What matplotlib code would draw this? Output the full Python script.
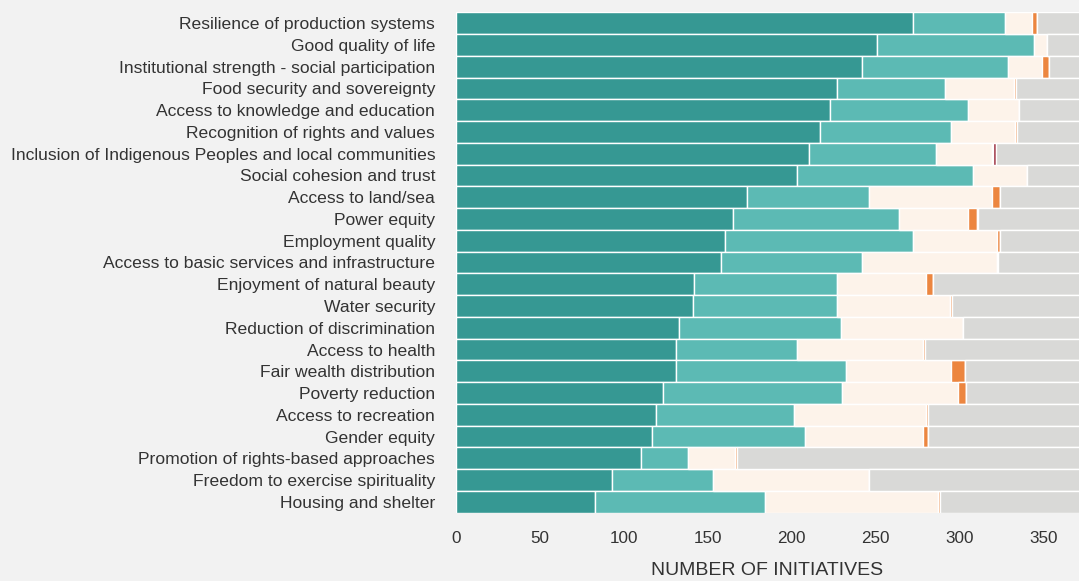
import matplotlib
matplotlib.use("Agg")
import matplotlib.pyplot as plt
import numpy as np

categories = [
    "Resilience of production systems",
    "Good quality of life",
    "Institutional strength - social participation",
    "Food security and sovereignty",
    "Access to knowledge and education",
    "Recognition of rights and values",
    "Inclusion of Indigenous Peoples and local communities",
    "Social cohesion and trust",
    "Access to land/sea",
    "Power equity",
    "Employment quality",
    "Access to basic services and infrastructure",
    "Enjoyment of natural beauty",
    "Water security",
    "Reduction of discrimination",
    "Access to health",
    "Fair wealth distribution",
    "Poverty reduction",
    "Access to recreation",
    "Gender equity",
    "Promotion of rights-based approaches",
    "Freedom to exercise spirituality",
    "Housing and shelter",
]

dark_teal = [272, 251, 242, 227, 223, 217, 210, 203, 173, 165, 160, 158, 142, 141, 133, 131, 131, 123, 119, 117, 110, 93, 83]
light_teal = [55, 93, 87, 64, 82, 78, 76, 105, 73, 99, 112, 84, 85, 86, 96, 72, 101, 107, 82, 91, 28, 60, 101]
cream = [16, 8, 20, 41, 30, 38, 33, 32, 73, 41, 50, 80, 53, 67, 73, 75, 63, 69, 79, 70, 28, 93, 103]
orange = [3, 0, 4, 1.5, 0, 1, 0.8, 0, 5, 5, 2, 1, 4, 1.5, 0, 1, 8, 5, 1, 3, 1.5, 0, 1.5]
dark_red = [0, 0, 0, 0, 0, 0, 2, 0, 0, 1, 0, 0, 0, 0, 0, 0, 0, 0, 0, 0, 0, 0, 0]
total = 380
grey = [total - (a + b + c + d + e) for a, b, c, d, e in zip(dark_teal, light_teal, cream, orange, dark_red)]

series = [dark_teal, light_teal, cream, orange, dark_red, grey]
colors = ["#369893", "#5cbab4", "#fdf3ea", "#ec8640", "#9b2d3f", "#d9d9d7"]

plt.rcParams['font.family'] = ['Liberation Sans', 'DejaVu Sans']
bg = "#f2f2f2"
fig = plt.figure(figsize=(10.79, 5.81), dpi=100, facecolor=bg)
ax = fig.add_axes([456 / 1079, 1 - 512.7 / 581, 1 - 456 / 1079, (512.7 - 12.3) / 581])
ax.set_facecolor(bg)

y = np.arange(len(categories))
left = np.zeros(len(categories))
for vals, col in zip(series, colors):
    v = np.array(vals, dtype=float)
    ax.barh(y, v, left=left, height=1.0, color=col, edgecolor="white", linewidth=1.0)
    left += v

ax.set_ylim(len(categories) - 0.5, -0.5)
ax.set_xlim(0, 371)
ax.set_yticks(y)
ax.set_yticklabels(categories, fontsize=12.6, color="#333333")
ax.set_xticks([0, 50, 100, 150, 200, 250, 300, 350])
ax.tick_params(axis="y", length=0, pad=15)
ax.tick_params(axis="x", length=0, pad=13, labelsize=12.3, labelcolor="#333333")
ax.set_xlabel("NUMBER OF INITIATIVES", fontsize=14, color="#333333", labelpad=12)
for s in ax.spines.values():
    s.set_visible(False)

fig.savefig("out.png", dpi=100, facecolor=bg)
